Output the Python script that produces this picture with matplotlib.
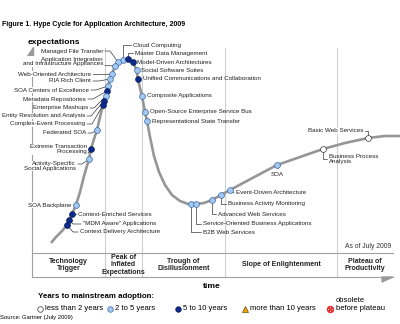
import matplotlib
matplotlib.use('Agg')
import matplotlib.pyplot as plt
from matplotlib.patches import Polygon

plt.rcParams['font.family'] = ['Liberation Sans', 'DejaVu Sans']

# hype curve (screen units, y grows downwards)
curve_x = [51, 56, 62, 67, 69, 72, 76, 80, 84, 89, 91, 94, 97, 100, 103, 104, 106,
           107, 108, 110, 112, 115, 118, 123, 128, 133, 136.5, 138, 140, 142, 145,
           147, 150, 154, 159, 165, 172, 180, 188, 196, 204, 212, 221, 230, 245,
           260, 277, 300, 323, 345, 368, 385, 400]
curve_y = [243, 237, 231, 225, 220, 214, 205, 192, 176, 159, 149, 139, 130, 117,
           105, 101, 96, 91, 86, 79, 74, 66, 62, 60, 59, 62, 70, 79, 88, 96, 112,
           121, 137, 156, 172, 185, 195, 201, 204, 204, 203, 200, 195, 190, 182,
           174, 165, 157, 149, 143, 138, 136, 136]

phase_edges = [32, 105, 142, 225, 337, 393]
phase_names = ['Technology\nTrigger', 'Peak of\nInflated\nExpectations',
               'Trough of\nDisillusionment', 'Slope of Enlightenment',
               'Plateau of\nProductivity']

tech_names = ['Cloud Computing', 'Master Data Management', 'Managed File Transfer',
              'Application Integration\nand Infrastructure Appliances',
              'Web-Oriented Architecture', 'RIA Rich Client', 'SOA Centers of Excellence',
              'Metadata Repositories', 'Enterprise Mashups', 'Entity Resolution and Analysis',
              'Complex-Event Processing', 'Federated SOA', 'Extreme Transaction\nProcessing',
              'Activity-Specific\nSocial Applications', 'SOA Backplane',
              'Context-Enriched Services', '"MDM Aware" Applications',
              'Context Delivery Architecture', 'Model-Driven Architectures',
              'Social Software Suites', 'Unified Communications and Collaboration',
              'Composite Applications', 'Open-Source Enterprise Service Bus',
              'Representational State Transfer', 'B2B Web Services',
              'Service-Oriented Business Applications', 'Advanced Web Services',
              'Business Activity Monitoring', 'Event-Driven Architecture', 'SOA',
              'Business Process\nAnalysis', 'Basic Web Services']
tech_x = [123, 128, 118, 115, 112, 110, 108, 107, 106, 104, 103, 97, 91, 89, 76, 72, 69,
          67, 133, 136.5, 138, 142, 145, 147, 191, 196, 212, 221, 230, 277, 323, 368]
tech_y = [60, 59, 62, 66, 74, 79, 86, 91, 96, 101, 105, 130, 149, 159, 205, 214, 220,
          225, 62, 70, 79, 96, 112, 121, 204, 204, 200, 195, 190, 165, 149, 138]
tech_years = ['2-5', '5-10', '2-5', '2-5', '2-5', '2-5', '2-5', '5-10', '2-5', '5-10',
              '5-10', '2-5', '5-10', '2-5', '2-5', '5-10', '5-10', '5-10', '5-10', '2-5',
              '5-10', '2-5', '2-5', '2-5', '2-5', '2-5', '2-5', '2-5', '2-5', '2-5',
              '<2', '<2']

# label placement: text x, text y, alignment, leader points (marker appended)
label_layout = [
    (133, 45, 'left', [(131, 45), (123, 45)]),
    (135, 53, 'left', [(133, 53), (128, 53)]),
    (103, 51, 'right', [(105, 51), (110, 51)]),
    (103, 61.5, 'right', [(105, 65.5)]),
    (91, 74, 'right', [(93, 74), (99, 74)]),
    (91, 81, 'right', [(93, 81), (99, 81)]),
    (89, 90, 'right', [(91, 90), (96, 90)]),
    (86, 99, 'right', [(88, 99), (93, 99)]),
    (88, 108, 'right', [(90, 108), (94, 108)]),
    (85, 116, 'right', [(87, 116), (91, 116)]),
    (85, 124, 'right', [(87, 124), (92, 124)]),
    (86, 133, 'right', [(88, 133), (92, 133)]),
    (87, 149.5, 'right', [(88, 153)]),
    (76, 166, 'right', [(78, 164), (82, 164)]),
    (72, 205, 'right', [(73, 205)]),
    (78, 214, 'left', [(76, 214)]),
    (83, 224, 'left', [(81, 224), (73, 224)]),
    (80, 232, 'left', [(78, 232), (73, 232)]),
    (137, 62, 'left', []),
    (141, 70, 'left', []),
    (143, 79, 'left', []),
    (147, 96, 'left', []),
    (150, 112, 'left', []),
    (152, 121, 'left', []),
    (203, 232, 'left', [(201, 232), (191, 232)]),
    (203, 224, 'left', [(201, 224), (196, 224)]),
    (218, 214, 'left', [(216, 214), (212, 214)]),
    (228, 204, 'left', [(226, 204), (221, 204)]),
    (236, 193, 'left', [(234, 193)]),
    (277, 174, 'center', []),
    (329, 158.5, 'left', [(327, 159), (323, 159)]),
    (363, 131, 'right', [(365, 131), (368, 131)]),
]

marker_style = {
    '<2': dict(marker='o', mfc='white', mec='#333333'),
    '2-5': dict(marker='o', mfc='#a3c8f0', mec='#3b6aa8'),
    '5-10': dict(marker='o', mfc='#0b2a8a', mec='#0b1f5e'),
    '>10': dict(marker='^', mfc='#f2a100', mec='#6b4a00'),
    'obsolete': dict(marker='$\\otimes$', mfc='#e03030', mec='#e03030'),
}
legend_labels = ['less than 2 years', '2 to 5 years', '5 to 10 years',
                 'more than 10 years', 'obsolete\nbefore plateau']
legend_keys = ['<2', '2-5', '5-10', '>10', 'obsolete']

fig = plt.figure(figsize=(4, 3.24), dpi=100)
ax = fig.add_axes([0, 0, 1, 1])
ax.set_xlim(0, 400)
ax.set_ylim(324, 0)
ax.axis('off')

grey = '#a0a0a0'
# phase dividers and frame
for xe in phase_edges[1:-1]:
    ax.plot([xe, xe], [48, 277], color='#d0d0d0', lw=0.8, zorder=1)
ax.plot([phase_edges[0], phase_edges[0]], [55, 277], color=grey, lw=0.8, zorder=1)
ax.plot([phase_edges[0], phase_edges[-1]], [252.5, 252.5], color=grey, lw=0.8, zorder=1)
ax.plot([phase_edges[0], phase_edges[-1]], [277, 277], color=grey, lw=0.8, zorder=1)
ax.add_patch(Polygon([(27, 56), (33, 56), (33, 47)], closed=True, color='#9a9a9a', zorder=2))
ax.add_patch(Polygon([(382, 277), (382, 282), (393, 277)], closed=True, color='#9a9a9a', zorder=2))

for i, name in enumerate(phase_names):
    cx = (phase_edges[i] + phase_edges[i + 1]) / 2
    ax.text(cx, 265, name, ha='center', va='center', fontsize=5.0,
            fontweight='bold', linespacing=1.05, color='#222222')

ax.text(345, 246, 'As of July 2009', fontsize=4.9, va='center', color='#333333')
ax.text(28, 43, 'expectations', fontsize=6.1, fontweight='bold', va='center')
ax.text(212, 286, 'time', fontsize=6.1, fontweight='bold', va='center', ha='center')
ax.text(2, 25, 'Figure 1. Hype Cycle for Application Architecture, 2009',
        fontsize=5.0, fontweight='bold', va='center')

# the curve
ax.plot(curve_x, curve_y, color='#969696', lw=1.9, solid_capstyle='butt', zorder=3)

# technologies
for name, x, y, yrs, (tx, ty, ha, leader) in zip(tech_names, tech_x, tech_y,
                                                tech_years, label_layout):
    if leader:
        pts = leader + [(x, y)]
        ax.plot([p[0] for p in pts], [p[1] for p in pts], color='#222222',
                lw=0.45, zorder=4)
    ax.plot(x, y, ms=4.2, mew=0.5, zorder=5, linestyle='none', **marker_style[yrs])
    box = dict(facecolor='white', edgecolor='none', pad=0.2) if ha == 'right' else None
    ax.text(tx, ty, name, ha=ha, va='center', fontsize=4.5, color='#222222',
            linespacing=1.0, multialignment='center' if ha == 'center' else ha,
            bbox=box, zorder=2.5)

# legend
ax.text(38, 296, 'Years to mainstream adoption:', fontsize=5.7, fontweight='bold',
        va='center')
legend_x = [40, 110, 178, 245, 330]
for lx, key, lab in zip(legend_x, legend_keys, legend_labels):
    ms = 4.8 if key == 'obsolete' else 4.0
    ax.plot(lx, 309, ms=ms, mew=0.5, linestyle='none', **marker_style[key])
    if '\n' in lab:
        ax.text(lx + 6, 304.5, lab, fontsize=5.5, va='center', linespacing=1.0)
    else:
        ax.text(lx + 5, 309, lab, fontsize=5.5, va='center')

ax.text(0, 317, 'Source: Gartner (July 2009)', fontsize=4.2, va='center')

fig.savefig('out.png', dpi=100)
